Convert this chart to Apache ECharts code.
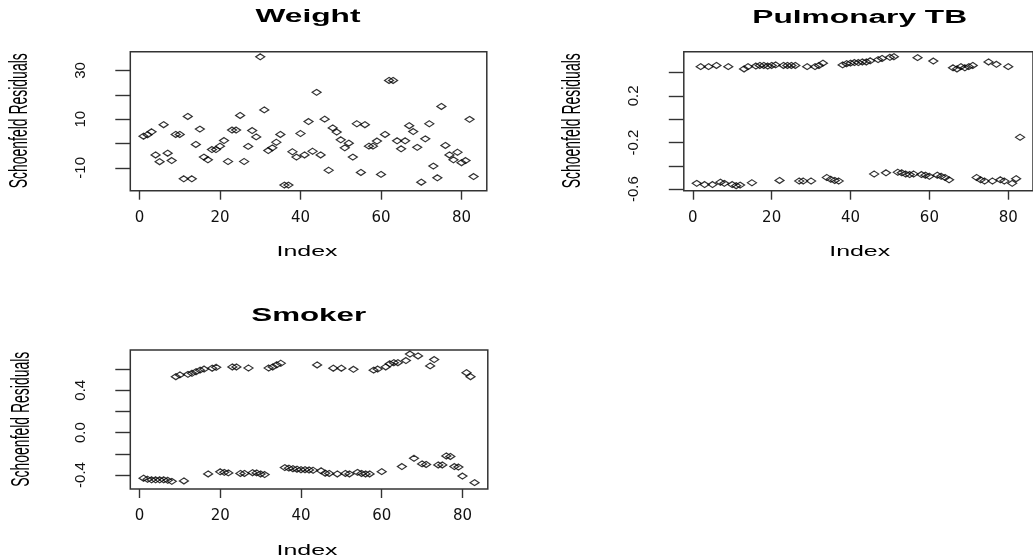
<!DOCTYPE html>
<html><head><meta charset="utf-8">
<script src="https://cdn.jsdelivr.net/npm/echarts@6/dist/echarts.min.js"></script>
<style>html,body{margin:0;padding:0;background:#fff}#c{width:1033px;height:560px}</style>
</head><body><div id="c"></div>
<script>
// ---- data (Schoenfeld residuals, index 1..83) ----
const weight = [3.0,3.6,4.8,-4.7,-7.5,7.7,-4.0,-7.0,3.7,3.7,
  -14.5,11.1,-14.5,-0.4,5.9,-5.6,-6.7,-2.5,-2.5,-1.1,
  1.2,-7.4,5.5,5.5,11.5,-7.4,-1.2,5.3,2.7,35.6,
  13.8,-2.9,-1.8,0.5,3.7,-17.1,-17.1,-3.4,-5.6,4.1,
  -4.7,9.0,-3.2,21.0,-4.7,10.0,-11.0,6.4,4.7,1.5,
  -1.8,0.1,-5.6,8.1,-11.9,7.7,-1.1,-1.1,1.0,-12.7,
  3.7,25.9,25.9,1.1,-2.2,1.1,7.3,4.9,-1.6,-15.9,
  1.9,8.1,-9.3,-14.1,15.2,-0.8,-4.7,-6.7,-3.6,-7.9,
  -7.0,9.9,-13.6];
const pulmonaryTB = [-0.55,0.45,-0.56,0.45,-0.56,0.46,-0.54,-0.55,0.45,-0.56,
  -0.57,-0.565,0.43,0.45,-0.545,0.455,0.46,0.46,0.455,0.46,
  0.465,-0.525,0.46,0.46,0.46,0.46,-0.53,-0.53,0.45,-0.53,
  0.45,0.46,0.48,-0.50,-0.515,-0.525,-0.53,0.465,0.475,0.48,
  0.485,0.485,0.49,0.49,0.50,-0.47,0.51,0.52,-0.46,0.53,
  0.535,-0.455,-0.46,-0.47,-0.475,-0.47,0.527,-0.475,-0.48,-0.49,
  0.498,-0.48,-0.49,-0.50,-0.52,0.44,0.43,0.45,0.44,0.45,
  0.46,-0.50,-0.52,-0.53,0.49,-0.53,0.47,-0.52,-0.53,0.45,
  -0.55,-0.51,-0.155];
const smoker = [-0.43,-0.44,-0.445,-0.445,-0.445,-0.445,-0.45,-0.46,0.528,0.545,
  -0.456,0.55,0.56,0.575,0.59,0.60,-0.39,0.608,0.617,-0.37,
  -0.375,-0.38,0.62,0.62,-0.385,-0.385,0.61,-0.378,-0.38,-0.39,
  -0.396,0.61,0.62,0.64,0.655,-0.33,-0.335,-0.34,-0.345,-0.35,
  -0.35,-0.352,-0.355,0.639,-0.36,-0.383,-0.385,0.608,-0.39,0.608,
  -0.385,-0.39,0.598,-0.375,-0.385,-0.39,-0.39,0.59,0.60,-0.368,
  0.62,0.65,0.66,0.66,-0.32,0.68,0.742,-0.242,0.724,-0.295,
  -0.30,0.63,0.69,-0.305,-0.305,-0.22,-0.225,-0.32,-0.325,-0.41,
  0.566,0.528,-0.472];
const xTicks = [0, 20, 40, 60, 80];
const weightTicks = [-10, 0, 10, 20, 30];
const weightLabels = [-10, 10, 30];
const tbTicks = [-0.6, -0.4, -0.2, 0, 0.2, 0.4];
const tbLabels = [-0.6, -0.2, 0.2];
const smokerTicks = [-0.4, -0.2, 0, 0.2, 0.4, 0.6];
const smokerLabels = [-0.4, 0, 0.4];
const titles = ['Weight', 'Pulmonary TB', 'Smoker'];
const xName = 'Index';
const yName = 'Schoenfeld Residuals';

// ---- chart ----
const chart = echarts.init(document.getElementById('c'), null, {renderer: 'canvas'});
const idx = weight.map((_, i) => i + 1);
const pts = arr => arr.map((v, i) => [idx[i], v]);

const grids = [
  {left: 130.3, top: 51.7, width: 356.5, height: 139},
  {left: 683.8, top: 51.7, width: 355, height: 139},
  {left: 130.3, top: 350, width: 357.5, height: 139}
].map(g => Object.assign(g, {show: true, borderColor: '#333', borderWidth: 1.5, backgroundColor: 'transparent', containLabel: false}));

const xAxisCfg = gi => ({
  type: 'value', gridIndex: gi, min: -2.28, max: 86.28,
  axisLine: {show: false, onZero: false}, splitLine: {show: false},
  axisTick: {show: true, length: 9, customValues: xTicks, lineStyle: {color: '#333', width: 1.4}},
  axisLabel: {customValues: xTicks, margin: 20, fontFamily: 'DejaVu Sans', fontSize: 15, color: '#111'}
});
const yAxisCfg = (gi, min, max, ticks, labels, fmt) => ({
  type: 'value', gridIndex: gi, min: min, max: max,
  axisLine: {show: false, onZero: false}, splitLine: {show: false},
  axisTick: {show: true, length: 15, customValues: ticks, lineStyle: {color: '#333', width: 1.4}},
  axisLabel: {customValues: labels, rotate: 90, margin: 42, formatter: fmt,
    fontFamily: "'Liberation Sans Narrow','Arial Narrow','Liberation Sans',sans-serif", fontSize: 15, color: '#111'}
});
const f0 = v => String(Math.round(v));
const f1 = v => (Math.abs(v) < 1e-9 ? 0 : v).toFixed(1);

const seriesCfg = (gi, arr) => ({
  type: 'scatter', xAxisIndex: gi, yAxisIndex: gi, data: pts(arr),
  symbol: 'diamond', symbolSize: [9, 6], silent: true,
  itemStyle: {color: 'rgba(0,0,0,0)', borderColor: '#000', borderWidth: 1.25},
  emphasis: {disabled: true}
});

const txt = (text, x, y, opts) => Object.assign({
  type: 'text', x: x, y: y, silent: true,
  style: {text: text, fill: '#000', align: 'center', verticalAlign: 'middle',
    font: opts.font}
}, opts.tr || {});

const graphics = [
  txt(titles[0], 308, 17.5, {font: 'bold 18px "Liberation Sans", Arial, sans-serif', tr: {scaleX: 1.76}}),
  txt(titles[1], 859.7, 17.8, {font: 'bold 18px "Liberation Sans", Arial, sans-serif', tr: {scaleX: 1.76}}),
  txt(titles[2], 308.7, 316.3, {font: 'bold 18px "Liberation Sans", Arial, sans-serif', tr: {scaleX: 1.74}}),
  txt(xName, 307, 252, {font: '14px "Liberation Sans", Arial, sans-serif', tr: {scaleX: 1.78}}),
  txt(xName, 859.7, 252, {font: '14px "Liberation Sans", Arial, sans-serif', tr: {scaleX: 1.78}}),
  txt(xName, 307, 551, {font: '14px "Liberation Sans", Arial, sans-serif', tr: {scaleX: 1.78}}),
  txt(yName, 20.3, 120.8, {font: '26px "Liberation Sans", Arial, sans-serif', tr: {rotation: Math.PI / 2, scaleX: 0.537}}),
  txt(yName, 572.5, 120.8, {font: '26px "Liberation Sans", Arial, sans-serif', tr: {rotation: Math.PI / 2, scaleX: 0.537}}),
  txt(yName, 21.7, 419.2, {font: '26px "Liberation Sans", Arial, sans-serif', tr: {rotation: Math.PI / 2, scaleX: 0.537}})
];

chart.setOption({
  animation: false,
  backgroundColor: '#fff',
  grid: grids,
  xAxis: [xAxisCfg(0), xAxisCfg(1), xAxisCfg(2)],
  yAxis: [
    yAxisCfg(0, -19.4, 37.7, weightTicks, weightLabels, f0),
    yAxisCfg(1, -0.613, 0.578, tbTicks, tbLabels, f1),
    yAxisCfg(2, -0.532, 0.78, smokerTicks, smokerLabels, f1)
  ],
  series: [seriesCfg(0, weight), seriesCfg(1, pulmonaryTB), seriesCfg(2, smoker)],
  graphic: graphics
});
</script>
</body></html>
